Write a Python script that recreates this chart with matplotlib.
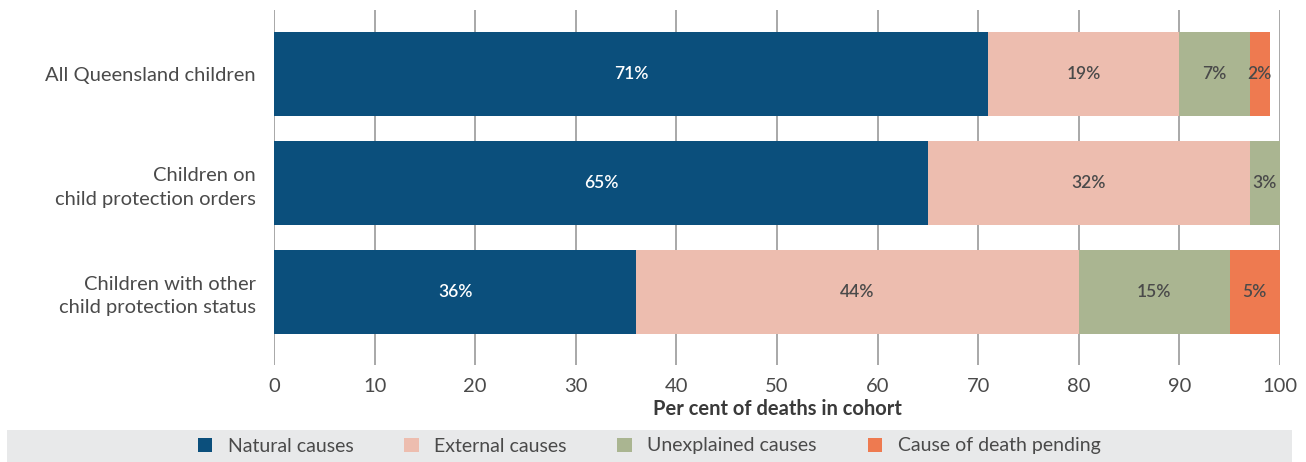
import numpy as np
import matplotlib.pyplot as plt
from matplotlib.patches import Rectangle

plt.rcParams['font.family'] = ['Lato', 'DejaVu Sans']

# data
groups = ['All Queensland children', 'Children on\nchild protection orders',
          'Children with other\nchild protection status']
causes = ['Natural causes', 'External causes', 'Unexplained causes', 'Cause of death pending']
natural = [71, 65, 36]
external = [19, 32, 44]
unexplained = [7, 3, 15]
pending = [2, 0, 5]
colors = ['#0b4f7c', '#edbdaf', '#aab591', '#ee7a50']
txt_colors = ['white', '#4a4a4a', '#4a4a4a', '#4a4a4a']

fig = plt.figure(figsize=(13.06, 4.62), dpi=100)
ax = fig.add_axes([274/1306, 1-365/462, 1006/1306, 355/462])

y = np.arange(len(groups))
left = np.zeros(len(groups))
for vals, c, tc, name in zip([natural, external, unexplained, pending], colors, txt_colors, causes):
    vals = np.array(vals, dtype=float)
    ax.barh(y, vals, left=left, height=0.77, color=c, label=name, zorder=3)
    for yi, (l, v) in enumerate(zip(left, vals)):
        if v > 0:
            ax.text(l + v/2, yi, '%d%%' % v, ha='center', va='center', color=tc,
                    fontsize=12.5, fontweight='semibold', zorder=4)
    left = left + vals

ax.set_xlim(0, 100)
ax.set_ylim(2.674, -0.587)
ax.set_xticks(np.arange(0, 101, 10))
ax.set_yticks(y)
ax.set_yticklabels(groups, linespacing=1.45)
ax.grid(axis='x', color='#9a9a9a', linewidth=1.2, zorder=0)
for s in ax.spines.values():
    s.set_visible(False)
ax.tick_params(axis='both', length=0, labelsize=14.5, labelcolor='#4a4a4a')
ax.tick_params(axis='y', pad=13)
ax.tick_params(axis='x', pad=9)
ax.set_xlabel('Per cent of deaths in cohort', fontsize=14.5, fontweight='bold',
              color='#3a3a3a', labelpad=3)

# legend band
fig.patches.append(Rectangle((7/1306, 0), 1285/1306, 32/462, transform=fig.transFigure,
                             facecolor='#e8e9ea', edgecolor='none', zorder=0))
h, l = ax.get_legend_handles_labels()
fig.legend(h, l, loc='center', bbox_to_anchor=(0.497, 16/462), ncol=4, frameon=False,
           fontsize=14, labelcolor='#4a4a4a', handlelength=0.75, handleheight=0.75,
           columnspacing=2.6, handletextpad=0.8)

fig.savefig('out.png', dpi=100)
